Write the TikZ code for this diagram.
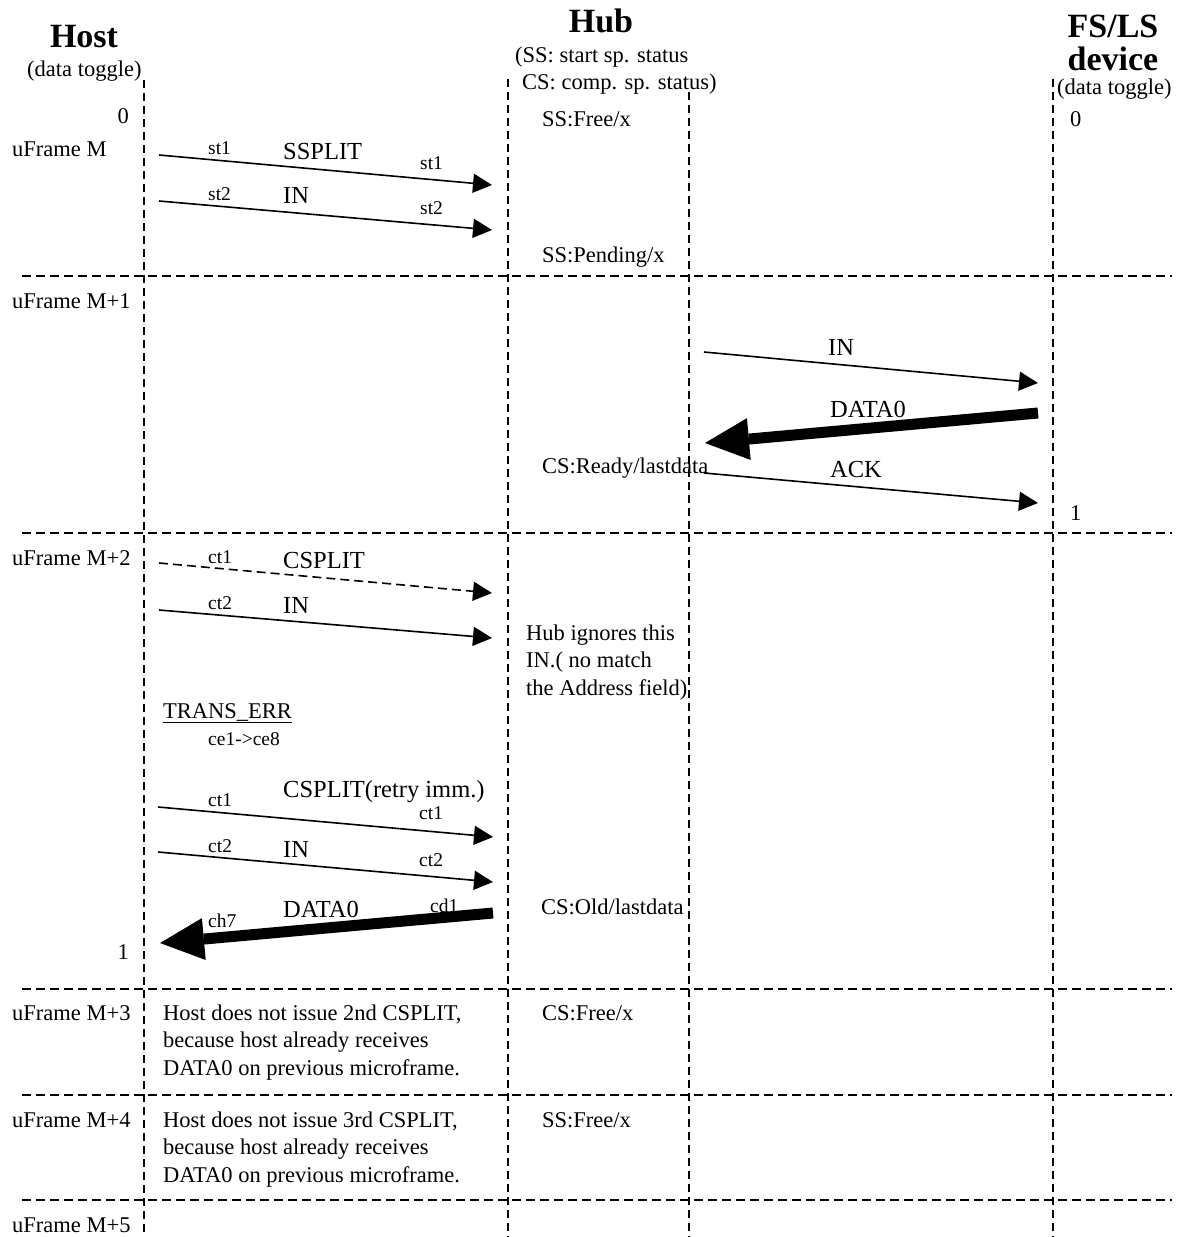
\documentclass[tikz,border=0pt]{standalone}
\usepackage{fontspec}
\setmainfont{Liberation Serif}
\usetikzlibrary{arrows.meta}
\begin{document}
\begin{tikzpicture}[x=1pt,y=-1pt,
  txt/.style={inner sep=0pt, anchor=base west, font=\fontsize{22.5}{27.5}\selectfont, align=left},
  sm/.style={inner sep=0pt, anchor=base west, font=\fontsize{19.5}{23}\selectfont},
  lbl/.style={inner sep=0pt, anchor=base west, font=\fontsize{24.5}{30}\selectfont},
  hd/.style={inner sep=0pt, anchor=base, font=\fontsize{34}{34}\selectfont\bfseries},
  life/.style={line width=1.6pt, dash pattern=on 8pt off 5pt},
  frm/.style={line width=1.8pt, dash pattern=on 9pt off 5pt},
  msg/.style={line width=1.6pt, -{Triangle[length=19pt,width=19pt]}},
  dmsg/.style={msg, dash pattern=on 9pt off 5pt},
  bigmsg/.style={line width=11pt, -{Triangle[length=44pt,width=42pt,line width=0pt]}},
]
\fill[white] (0,0) rectangle (1184,1237);
\useasboundingbox (0,0) rectangle (1184,1237);

% lifelines
\coordinate (hostT) at (144,80);   \coordinate (hostB) at (144,1237);
\coordinate (hubLT) at (508,79);   \coordinate (hubLB) at (508,1237);
\coordinate (hubRT) at (689,92);   \coordinate (hubRB) at (689,1237);
\coordinate (devT)  at (1053,79);  \coordinate (devB)  at (1053,1237);
\draw[life] (hostT) -- (hostB);
\draw[life] (hubLT) -- (hubLB);
\draw[life] (hubRT) -- (hubRB);
\draw[life] (devT) -- (devB);

% microframe separators
\foreach \i/\y in {1/276,2/533,3/989,4/1095,5/1200}{
  \coordinate (f\i L) at (22,\y); \coordinate (f\i R) at (1172,\y);
  \draw[frm] (f\i L) -- (f\i R);
}

% headers
\node[hd] (hostH) at (84,47) {Host};
\node[txt] (hostDT) at (27,76) {(data toggle)};
\node[hd] (hubH) at (601,32) {Hub};
\node[txt] (hubSS) at (515,62) {(SS: start sp. status};
\node[txt] (hubCS) at (522,89) {CS: comp. sp. status)};
\node[hd] (devH1) at (1113,37) {FS/LS};
\node[hd] (devH2) at (1113,70) {device};
\node[txt] (devDT) at (1057,94) {(data toggle)};

% frame labels
\node[txt] (fmM)  at (12,156)  {uFrame M};
\node[txt] (fmM1) at (12,308)  {uFrame M+1};
\node[txt] (fmM2) at (12,565)  {uFrame M+2};
\node[txt] (fmM3) at (12,1020) {uFrame M+3};
\node[txt] (fmM4) at (12,1127) {uFrame M+4};
\node[txt] (fmM5) at (12,1232) {uFrame M+5};

% toggles
\node[txt, anchor=base east] (h0) at (129,123) {0};
\node[txt, anchor=base east] (h1) at (129,959) {1};
\node[txt] (d0) at (1070,126) {0};
\node[txt] (d1) at (1070,520) {1};

% uFrame M
\node[txt] (ssfree) at (542,126) {SS:Free/x};
\node[txt] (sspend) at (542,262) {SS:Pending/x};
\coordinate (a1s) at (159,155); \coordinate (a1e) at (492,185);
\coordinate (a2s) at (159,201); \coordinate (a2e) at (492,230);
\draw[msg] (a1s) -- (a1e);
\draw[msg] (a2s) -- (a2e);
\node[sm] (st1a) at (208,154) {st1};
\node[lbl] (ssplit) at (283,159) {SSPLIT};
\node[sm] (st1b) at (420,169) {st1};
\node[sm] (st2a) at (208,200) {st2};
\node[lbl] (in1) at (283,203) {IN};
\node[sm] (st2b) at (420,214) {st2};

% uFrame M+1
\coordinate (b1s) at (704,352);  \coordinate (b1e) at (1038,383);
\coordinate (b2s) at (1038,413); \coordinate (b2e) at (705,443);
\coordinate (b3s) at (704,473);  \coordinate (b3e) at (1038,503);
\draw[msg] (b1s) -- (b1e);
\draw[bigmsg] (b2s) -- (b2e);
\draw[msg] (b3s) -- (b3e);
\node[lbl] (in2) at (828,355) {IN};
\node[lbl] (data1) at (830,417) {DATA0};
\node[lbl] (ack) at (830,477) {ACK};
\node[txt] (csready) at (542,473) {CS:Ready/lastdata};

% uFrame M+2
\coordinate (c1s) at (159,563); \coordinate (c1e) at (492,593);
\coordinate (c2s) at (159,610); \coordinate (c2e) at (492,638);
\draw[dmsg] (c1s) -- (c1e);
\draw[msg] (c2s) -- (c2e);
\node[sm] (ct1a) at (208,563) {ct1};
\node[lbl] (csplit1) at (283,568) {CSPLIT};
\node[sm] (ct2a) at (208,609) {ct2};
\node[lbl] (in3) at (283,613) {IN};
\node[txt] (ignore) at (526,695) {Hub ignores this\\IN.( no match\\the Address field)};
\node[txt] (terr) at (163,718) {\underline{TRANS\_ERR}};
\node[sm] (ce) at (208,745) {ce1->ce8};

\coordinate (c3s) at (158,807); \coordinate (c3e) at (493,837);
\coordinate (c4s) at (158,852); \coordinate (c4e) at (493,882);
\coordinate (c5s) at (493,913); \coordinate (c5e) at (160,943);
\draw[msg] (c3s) -- (c3e);
\draw[msg] (c4s) -- (c4e);
\draw[bigmsg] (c5s) -- (c5e);
\node[lbl] (csplit2) at (283,797) {CSPLIT(retry imm.)};
\node[sm] (ct1b) at (208,806) {ct1};
\node[sm] (ct1c) at (419,819) {ct1};
\node[sm] (ct2b) at (208,852) {ct2};
\node[lbl] (in4) at (283,857) {IN};
\node[sm] (ct2c) at (419,866) {ct2};
\node[lbl] (data2) at (283,917) {DATA0};
\node[sm] (cd1) at (430,912) {cd1};
\node[sm] (ch7) at (208,927) {ch7};
\node[txt] (csold) at (541,914) {CS:Old/lastdata};

% uFrame M+3, M+4
\node[txt] (note3) at (163,1075) {Host does not issue 2nd CSPLIT,\\because host already receives\\DATA0 on previous microframe.};
\node[txt] (csfree) at (542,1020) {CS:Free/x};
\node[txt] (note4) at (163,1182) {Host does not issue 3rd CSPLIT,\\because host already receives\\DATA0 on previous microframe.};
\node[txt] (ssfree2) at (542,1127) {SS:Free/x};
\end{tikzpicture}
\end{document}
